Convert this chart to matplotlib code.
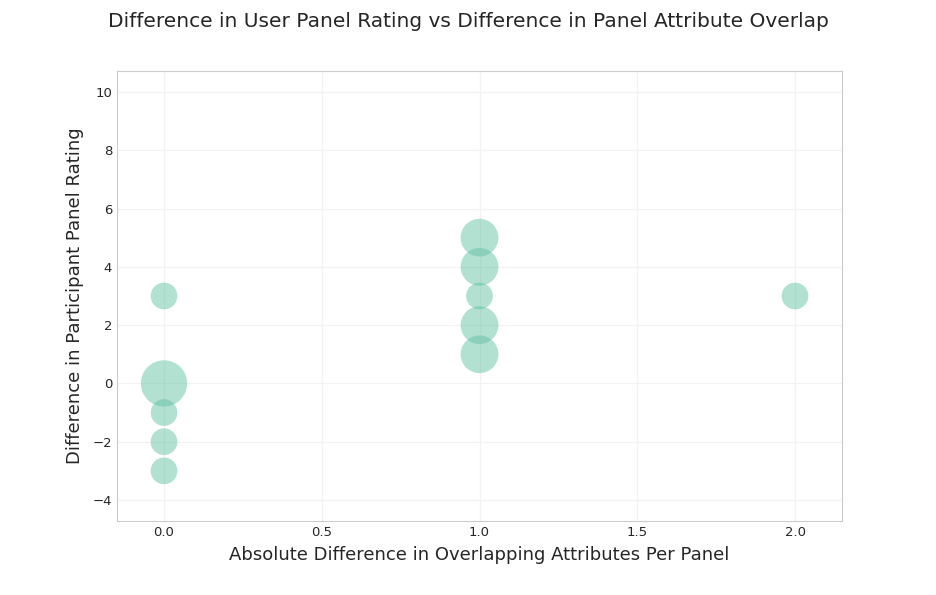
import matplotlib
matplotlib.use("Agg")
import seaborn as sns
from matplotlib import pyplot as plt

# absolute difference in overlapping attributes, rating difference, count
overlap_diff = [0, 0, 0, 0, 0, 1, 1, 1, 1, 1, 2]
rating_diff = [3, 0, -1, -2, -3, 5, 4, 3, 2, 1, 3]
counts = [1, 3, 1, 1, 1, 2, 2, 1, 2, 2, 1]

sns.set_style("whitegrid")
plt.rcParams['font.family'] = ['DejaVu Sans']

fig = plt.figure(figsize=(9.36, 5.95), dpi=100)
ax = fig.add_axes([0.125, 0.1244, 0.7746, 0.7563])

ax.scatter(overlap_diff, rating_diff, s=[c * 370 for c in counts],
           color="#66c2a5", alpha=0.5, linewidths=0)

ax.set_xticks([0.0, 0.5, 1.0, 1.5, 2.0])
ax.set_yticks([-4, -2, 0, 2, 4, 6, 8, 10])
ax.set_xlim(-0.149, 2.149)
ax.set_ylim(-4.72, 10.72)
ax.grid(True, color="#f2f2f2", linewidth=0.9)
for s in ax.spines.values():
    s.set_color("#cccccc")
ax.tick_params(labelsize=9.5, colors="#262626", length=0)

ax.set_xlabel("Absolute Difference in Overlapping Attributes Per Panel",
              fontsize=13, color="#262626", labelpad=5)
ax.set_ylabel("Difference in Participant Panel Rating",
              fontsize=13, color="#262626", labelpad=6)
fig.suptitle("Difference in User Panel Rating vs Difference in Panel Attribute Overlap",
             fontsize=14.5, color="#262626", y=0.98)

plt.savefig("out.png", dpi=100)
plt.close()
